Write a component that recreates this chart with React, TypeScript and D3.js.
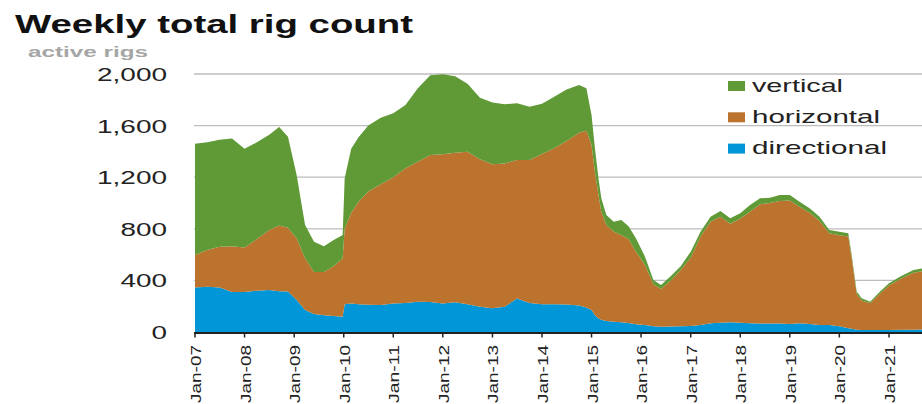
import React from "react";
import * as d3 from "d3";

const dates = [
  "2007-01-01","2007-04-01","2007-07-01","2007-10-01","2008-01-01","2008-04-01","2008-07-01","2008-09-12","2008-11-16",
  "2009-01-19","2009-03-22","2009-05-27","2009-08-08","2009-10-19","2009-12-24","2010-01-08","2010-02-25","2010-04-20",
  "2010-07-01","2010-10-01","2011-01-01","2011-04-01","2011-07-01","2011-10-01","2012-01-01","2012-04-01","2012-07-01",
  "2012-10-01","2013-01-01","2013-04-01","2013-07-01","2013-10-01","2014-01-01","2014-04-01","2014-07-01","2014-10-01",
  "2014-11-24","2015-01-01","2015-01-26","2015-02-21","2015-03-14","2015-04-20","2015-06-14","2015-08-08","2015-10-01",
  "2015-11-24","2016-01-30","2016-04-01","2016-05-27","2016-08-08","2016-10-19","2017-01-01","2017-03-14","2017-05-27",
  "2017-08-08","2017-10-19","2018-01-01","2018-03-14","2018-05-27","2018-08-08","2018-10-19","2019-01-01","2019-03-14",
  "2019-05-27","2019-08-08","2019-10-19","2020-01-01","2020-03-07","2020-04-01","2020-05-08","2020-06-14","2020-08-15",
  "2020-10-27","2021-01-01","2021-04-01","2021-07-01","2021-09-12",
];

const directional = [
  344,351,345,310,310,320,326,315,313,
  248,170,140,130,125,119,215,220,215,
  212,210,220,225,235,232,220,230,215,
  195,185,195,260,225,215,215,213,205,
  190,170,130,105,95,85,80,75,70,
  60,54,45,41,42,45,47,55,67,
  72,75,72,67,66,66,65,62,67,
  62,54,54,45,30,25,18,15,15,
  15,15,17,18,20,
];

const horizontal = [
  253,285,315,355,345,400,464,510,496,
  478,401,325,335,385,452,585,705,795,
  878,935,980,1045,1085,1140,1157,1160,1183,
  1145,1115,1112,1073,1108,1165,1209,1267,1340,
  1370,1280,1113,957,838,744,698,677,650,
  563,465,325,292,358,435,528,685,788,
  822,765,808,866,924,934,950,958,903,
  863,806,711,705,710,550,277,230,207,
  283,345,398,442,452,
];

const vertical = [
  863,834,830,835,765,750,740,765,705,
  491,258,235,200,203,181,391,495,500,
  510,515,495,490,570,618,621,592,527,
  475,480,458,440,414,390,400,400,370,
  330,232,181,129,103,78,77,116,100,
  103,65,33,31,35,30,48,38,39,
  44,41,40,51,46,41,47,42,40,
  34,34,26,28,25,22,18,16,13,
  15,17,20,21,22,
];

const yTicks = [0, 400, 800, 1200, 1600, 2000];
const xTickYears = [2007,2008,2009,2010,2011,2012,2013,2014,2015,2016,2017,2018,2019,2020,2021];
const seriesKeys = ["directional", "horizontal", "vertical"];
const legendItems = ["vertical", "horizontal", "directional"];
const colors: Record<string, string> = {
  vertical: "#5f9a37",
  horizontal: "#bc732d",
  directional: "#0096d7",
};

const parse = d3.timeParse("%Y-%m-%d");

export default function App() {
  const W = 922;
  const H = 404;
  const left = 195;
  const plotRight = 922;
  const y0 = 332;
  const yTop = 74;

  const rows = dates.map((d, i) => ({
    date: parse(d) as Date,
    directional: directional[i],
    horizontal: horizontal[i],
    vertical: vertical[i],
  }));

  const x = d3
    .scaleTime()
    .domain([new Date(2007, 0, 1), new Date(2021, 0, 1)])
    .range([left, 889]);
  const y = d3.scaleLinear().domain([0, 2000]).range([y0, yTop]);

  const stack = d3.stack<any>().keys(seriesKeys);
  const layers = stack(rows);
  const area = d3
    .area<any>()
    .x((d) => x(d.data.date))
    .y0((d) => y(d[0]))
    .y1((d) => y(d[1]));

  const fmt = d3.format(",");
  const tickFmt = d3.timeFormat("%b-%y");
  const yLabelWidth = (s: string) => {
    let w = 0;
    for (const c of s) w += c === "," ? 8 : 15.5;
    return w;
  };

  return (
    <svg
      width={W}
      height={H}
      style={{ position: "absolute", left: 0, top: 0, background: "#fff" }}
      fontFamily="Arial, 'Liberation Sans', Helvetica, sans-serif"
    >
      <text x={15} y={33} fontSize={25} fontWeight="bold" fill="#111" textLength={398} lengthAdjust="spacingAndGlyphs">
        Weekly total rig count
      </text>
      <text x={28} y={57} fontSize={14} fontWeight="bold" fill="#a6a6a6" textLength={120} lengthAdjust="spacingAndGlyphs">
        active rigs
      </text>

      {yTicks.map((t) => (
        <g key={t}>
          {t > 0 && (
            <line x1={194} x2={plotRight} y1={y(t)} y2={y(t)} stroke="#bdbdbd" strokeWidth={1.3} />
          )}
          <text
            x={167}
            y={y(t) + 7}
            fontSize={19}
            textAnchor="end"
            fill="#222"
            textLength={yLabelWidth(fmt(t))}
            lengthAdjust="spacingAndGlyphs"
          >
            {fmt(t)}
          </text>
        </g>
      ))}

      {layers.map((layer) => (
        <path key={layer.key} d={area(layer as any) || ""} fill={colors[layer.key]} />
      ))}

      <line x1={194} x2={plotRight} y1={y0 + 1} y2={y0 + 1} stroke="#222" strokeWidth={2} />
      {xTickYears.map((yr) => {
        const d = new Date(yr, 0, 1);
        const xx = x(d);
        return (
          <g key={yr}>
            <line x1={xx} x2={xx} y1={y0} y2={y0 + 5.5} stroke="#222" strokeWidth={1.5} />
            <text
              transform={`translate(${xx + 6},345) rotate(-90)`}
              fontSize={14}
              textAnchor="end"
              fill="#222"
              textLength={58}
              lengthAdjust="spacingAndGlyphs"
            >
              {tickFmt(d)}
            </text>
          </g>
        );
      })}

      {legendItems.map((k, i) => {
        const base = 91.5 + i * 31.3;
        const widths: Record<string, number> = { vertical: 91, horizontal: 128, directional: 135 };
        return (
          <g key={k}>
            <rect x={728} y={base - 10.5} width={17} height={10} fill={colors[k]} />
            <text x={752} y={base} fontSize={19} fill="#222" textLength={widths[k]} lengthAdjust="spacingAndGlyphs">
              {k}
            </text>
          </g>
        );
      })}
    </svg>
  );
}
